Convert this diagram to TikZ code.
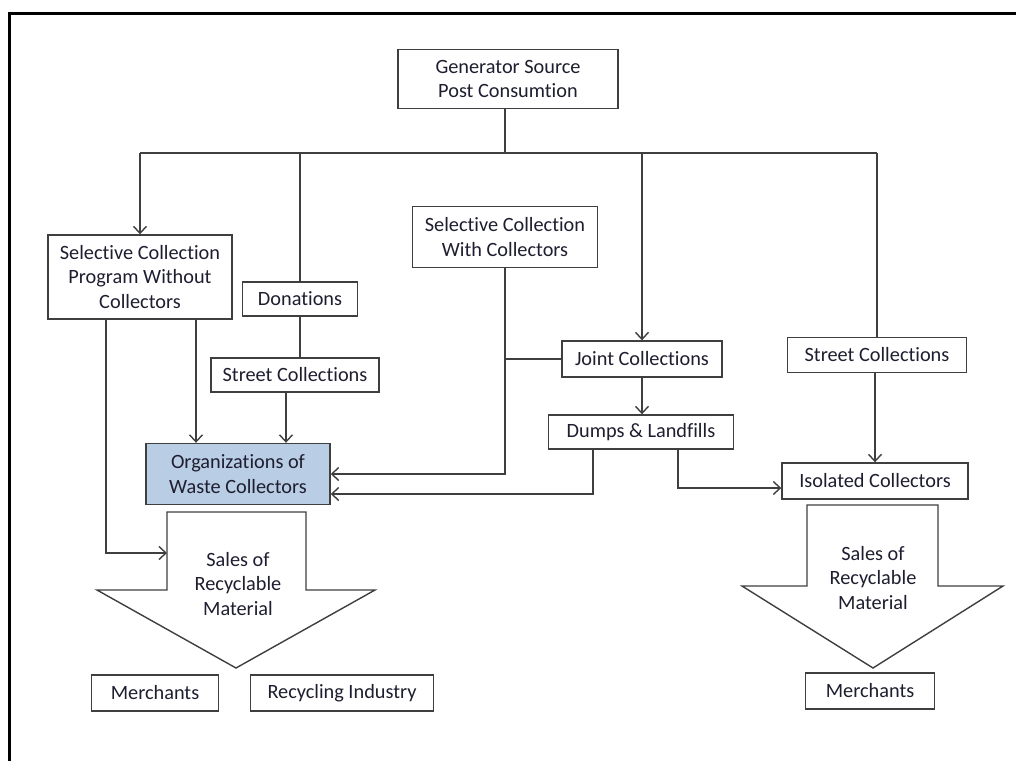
\documentclass[tikz,border=0pt]{standalone}
\usepackage{fontspec}
\setmainfont{Carlito}[Ligatures=NoCommon]
\usetikzlibrary{arrows.meta}
\definecolor{linegray}{HTML}{3F3F3F}
\definecolor{textdark}{HTML}{1E1E30}
\definecolor{orgblue}{HTML}{B9CDE5}
\tikzset{
	box/.style={draw=linegray,line width=1.4pt,fill=white,align=center,inner sep=0pt,text=textdark},
	link/.style={draw=linegray,line width=1.4pt},
	flow/.style={link,-{Straight Barb[length=7pt,width=13pt,line width=1.4pt]}},
	bigarrow/.style={draw=linegray,line width=1.4pt,fill=white},
	salestext/.style={text=textdark,align=center,inner sep=0pt},
}
\begin{document}
\begin{tikzpicture}[x=1pt,y=-1pt,font=\fontsize{20.3}{24.5}\selectfont]
	\useasboundingbox (0,0) rectangle (1016,760);
	%
	\def\busy{153}
	% frame
	\draw [line width=3pt] (9,800) -- (9,14) -- (1030,14);
	%
	\node [box,minimum width=220,minimum height=59] (gen) at (508,79) {Generator Source\\Post Consumtion};
	\node [box,minimum width=184,minimum height=84] (scp) at (140,277) {Selective Collection\\Program Without\\Collectors};
	\node [box,minimum width=115,minimum height=34] (don) at (300,299) {Donations};
	\node [box,minimum width=185,minimum height=61] (scw) at (505,237) {Selective Collection\\With Collectors};
	\node [box,minimum width=168,minimum height=34] (st1) at (295,375) {Street Collections};
	\node [box,fill=orgblue,minimum width=184,minimum height=61] (org) at (238,474) {Organizations of\\Waste Collectors};
	\node [box,minimum width=160,minimum height=36] (joint) at (642,359) {Joint Collections};
	\node [box,minimum width=185,minimum height=34] (dump) at (641,432) {Dumps \& Landfills};
	\node [box,minimum width=179,minimum height=35] (st2) at (877,355) {Street Collections};
	\node [box,minimum width=186,minimum height=36] (iso) at (875,481) {Isolated Collectors};
	\node [box,minimum width=127,minimum height=36] (mer1) at (155,693) {Merchants};
	\node [box,minimum width=183,minimum height=36] (ind) at (342,693) {Recycling Industry};
	\node [box,minimum width=129,minimum height=36] (mer2) at (870,691) {Merchants};
	%
	% big arrows
	\draw [bigarrow] (167,512) -- (306,512) -- (306,590) -- (375,590) -- (236,668) -- (97,590) -- (167,590) -- cycle;
	\coordinate (body1) at (167,553);
	\node [salestext] (sales1) at (238,584) {Sales of\\Recyclable\\Material};
	\draw [bigarrow] (807,505) -- (938,505) -- (938,586) -- (1003,586) -- (873,668) -- (742,586) -- (807,586) -- cycle;
	\node [salestext] (sales2) at (873,578) {Sales of\\Recyclable\\Material};
	%
	% bus from the source
	\draw [link] ([xshift=-3]gen.south) -- ([xshift=-3]gen.south |- 0,\busy) coordinate (hub);
	\draw [link] (hub -| scp.north) -- (hub -| st2.north);
	\foreach \n in {scp,joint}
		\draw [flow] (hub -| \n.north) -- (\n.north);
	\foreach \n in {don,st2}
		\draw [link] (hub -| \n.north) -- (\n.north);
	%
	\draw [link] (don.south) -- (don.south |- st1.north);
	\draw [flow] ([xshift=56]scp.south) -- ([xshift=56]scp.south |- org.north);
	\draw [flow] ([xshift=-9]st1.south) -- ([xshift=-9]st1.south |- org.north);
	\draw [flow] ([xshift=-34]scp.south) |- (body1);
	\draw [flow] (scw.south) |- (org.east);
	\draw [link] (joint.west) -- (joint.west -| scw.south);
	\draw [flow] (joint.south) -- (joint.south |- dump.north);
	\draw [flow] ([xshift=-48]dump.south) |- ([yshift=-20]org.east);
	\draw [flow] ([xshift=37]dump.south) |- ([yshift=-7]iso.west);
	\draw [flow] (st2.south -| iso.north) -- (iso.north);
\end{tikzpicture}
\end{document}
